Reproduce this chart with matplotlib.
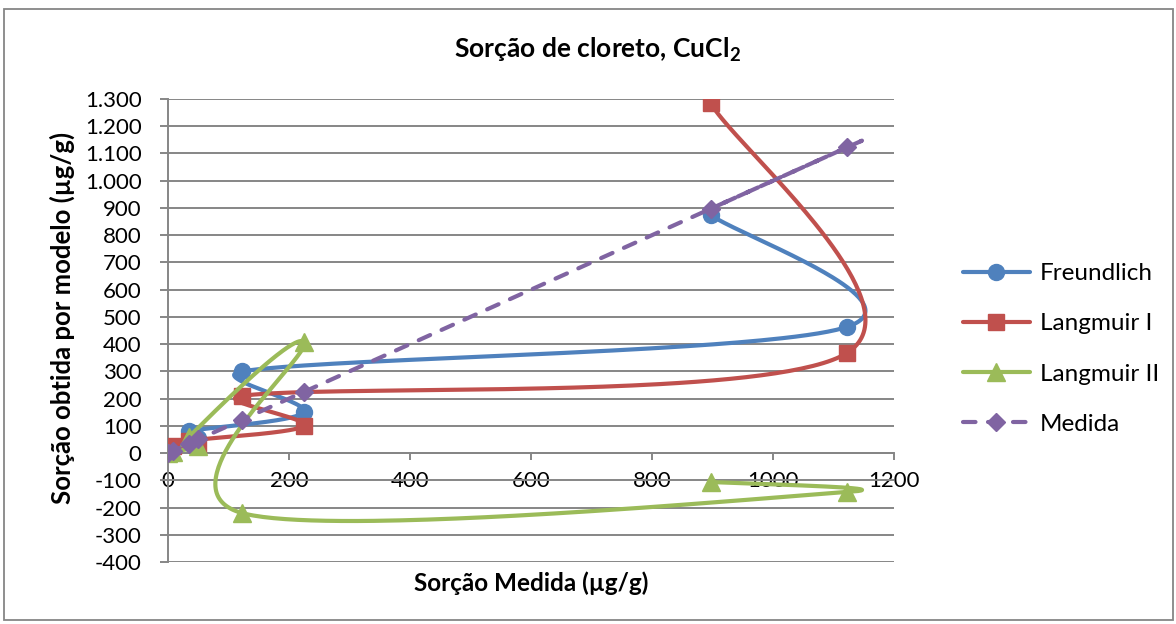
import numpy as np
import matplotlib.pyplot as plt
from matplotlib.lines import Line2D
from matplotlib.patches import Rectangle
from matplotlib.ticker import FuncFormatter, MultipleLocator

plt.rcParams['font.family'] = ['Lato', 'DejaVu Sans']
plt.rcParams['mathtext.fontset'] = 'custom'
plt.rcParams['mathtext.rm'] = 'Lato'
plt.rcParams['mathtext.bf'] = 'Lato:bold'

# sorção medida (eixo x) e valores dos modelos, na ordem da planilha
medida = [0, 8, 50, 35, 225, 122, 1122, 897]
freundlich = [3, 20, 55, 80, 150, 300, 463, 875]
langmuir_1 = [8, 25, 30, 45, 100, 210, 367, 1285]
langmuir_2 = [0, 5, 25, 60, 407, -220, -143, -106]

series_names = ['Freundlich', 'Langmuir I', 'Langmuir II', 'Medida']
series_values = [freundlich, langmuir_1, langmuir_2, medida]
colors = ['#4F81BD', '#C0504D', '#9BBB59', '#8064A2']
markers = ['o', 's', '^', 'D']
msizes = [11.5, 11, 12.5, 9.5]
GRAY = '#868686'


def excel_smooth(ax, x, y, n=80):
    # linha suavizada (Bezier com tangentes de Catmull-Rom, braço limitado
    # a metade do segmento), calculada em coordenadas de tela
    p = ax.transData.transform(np.column_stack([x, y]).astype(float))
    ext = np.vstack([p[0], p, p[-1]])
    t = np.linspace(0, 1, n)[1:, None]
    out = [p[:1]]
    for i in range(len(p) - 1):
        p0, p1, p2, p3 = ext[i], ext[i + 1], ext[i + 2], ext[i + 3]
        d12 = np.hypot(*(p2 - p1))
        a1 = (p2 - p0) / 6
        a2 = (p3 - p1) / 6
        for a in (a1, a2):
            la = np.hypot(*a)
            if la > d12 / 2:
                a *= (d12 / 2) / la
        c1 = p1 + a1
        c2 = p2 - a2
        seg = ((1 - t) ** 3 * p1 + 3 * (1 - t) ** 2 * t * c1
               + 3 * (1 - t) * t ** 2 * c2 + t ** 3 * p2)
        out.append(seg)
    pts = ax.transData.inverted().transform(np.vstack(out))
    return pts[:, 0], pts[:, 1]


fig = plt.figure(figsize=(11.76, 6.24), dpi=100)
ax = fig.add_axes([168 / 1176, 1 - 562 / 624, 726 / 1176, 463 / 624])
ax.set_xlim(0, 1200)
ax.set_ylim(-400, 1300)

handles = []
for k, (name, vals) in enumerate(zip(series_names, series_values)):
    ls = (0, (3.0, 3.0)) if name == 'Medida' else '-'
    sx, sy = excel_smooth(ax, medida, vals)
    ax.plot(sx, sy, color=colors[k], lw=3, ls=ls, dash_capstyle='round',
            solid_capstyle='round', zorder=3 + 2 * k)
    ax.plot(medida, vals, ls='none', marker=markers[k], ms=msizes[k],
            color=colors[k], zorder=4 + 2 * k)
    handles.append(Line2D([], [], color=colors[k], lw=3, ls=ls,
                          dash_capstyle='round', solid_capstyle='round',
                          marker=markers[k], ms=msizes[k], label=name))

ax.xaxis.set_major_locator(MultipleLocator(200))
ax.yaxis.set_major_locator(MultipleLocator(100))
ax.yaxis.set_major_formatter(
    FuncFormatter(lambda v, pos: f'{int(round(v)):,}'.replace(',', '.')))
ax.xaxis.set_major_formatter(FuncFormatter(lambda v, pos: f'{int(round(v))}'))

ax.yaxis.grid(True, color=GRAY, lw=1.4)
ax.set_axisbelow(True)
for s in ['top', 'right']:
    ax.spines[s].set_visible(False)
ax.spines['bottom'].set_position(('data', 0))
for s in ['bottom', 'left']:
    ax.spines[s].set_color(GRAY)
    ax.spines[s].set_linewidth(1.4)
ax.tick_params(axis='y', direction='out', length=6, width=1.4, color=GRAY,
               pad=13, labelsize=16)
ax.tick_params(axis='x', direction='out', length=5, width=1.4, color=GRAY,
               pad=8, labelsize=16)

fig.text(597 / 1176, 1 - 58 / 624, r'Sorção de cloreto, CuCl$_\mathbf{2}$',
         ha='center', va='baseline', fontsize=19, fontweight='bold')
fig.text(62 / 1176, 1 - 318 / 624, 'Sorção obtida por modelo (µg/g)',
         rotation=90, ha='center', va='center', fontsize=18.5,
         fontweight='bold')
fig.text(531 / 1176, 1 - 583 / 624, 'Sorção Medida (µg/g)',
         ha='center', va='center', fontsize=17.5, fontweight='bold')

fig.legend(handles=handles, loc='center left',
           bbox_to_anchor=(963 / 1176, 1 - 349 / 624), frameon=False,
           fontsize=17.5, handlelength=2.75, handletextpad=0.4,
           labelspacing=1.2, borderpad=0, borderaxespad=0)

fig.patches.append(Rectangle((4 / 1176, 1 - 620 / 624), 1169 / 1176,
                             611 / 624, transform=fig.transFigure,
                             fill=False, edgecolor=GRAY, lw=1.3))

fig.savefig('out.png', dpi=100)
